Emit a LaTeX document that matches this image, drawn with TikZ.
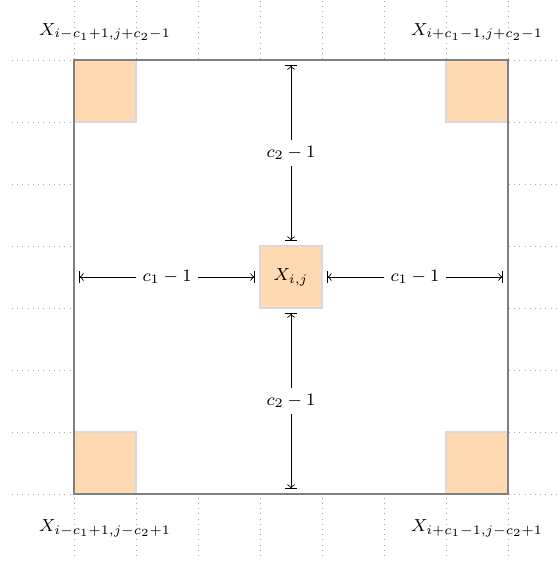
\documentclass[tikz,border=0pt]{standalone}
\begin{document}
\begin{tikzpicture}[x=1cm,y=1cm,font=\footnotesize,
  gridline/.style={gray!70,dotted},
  frame/.style={fill=white,minimum size=7cm,inner sep=0pt,outer sep=0pt},
  framebd/.style={draw=gray,thick},
  cell/.style={draw=gray!30,thick,fill=orange!30,minimum size=1cm,inner sep=0pt,outer sep=0pt},
  dim/.style={|<->|,shorten <=2.2pt,shorten >=2.2pt},
  dimlbl/.style={fill=white,inner sep=3pt}]
\useasboundingbox (-1.194,-1.081) rectangle (7.806,7.968);
\foreach \k in {0,...,7} {
  \draw[gridline] (-1,\k) -- (8,\k);
  \draw[gridline] (\k,-1) -- (\k,8);
}
\node[frame] (big) at (3.5,3.5) {};
\node[cell] (tl) at (0.5,6.5) {};
\node[cell] (tr) at (6.5,6.5) {};
\node[cell] (bl) at (0.5,0.5) {};
\node[cell] (br) at (6.5,0.5) {};
\node[cell] (c) at (3.5,3.5) {$X_{i,j}$};
\draw[framebd] (big.south west) rectangle (big.north east);
\node[anchor=base] (ltl) at (0.5,7.40) {$X_{i-c_1+1,j+c_2-1}$};
\node[anchor=base] (ltr) at (6.5,7.40) {$X_{i+c_1-1,j+c_2-1}$};
\node[anchor=base] (lbl) at (0.5,-0.61) {$X_{i-c_1+1,j-c_2+1}$};
\node[anchor=base] (lbr) at (6.5,-0.61) {$X_{i+c_1-1,j-c_2+1}$};
\draw[dim] (big.west) -- node[dimlbl] {$c_1-1$} (c.west);
\draw[dim] (c.east) -- node[dimlbl] {$c_1-1$} (big.east);
\draw[dim] (big.north) -- node[dimlbl] {$c_2-1$} (c.north);
\draw[dim] (c.south) -- node[dimlbl] {$c_2-1$} (big.south);
\end{tikzpicture}
\end{document}
